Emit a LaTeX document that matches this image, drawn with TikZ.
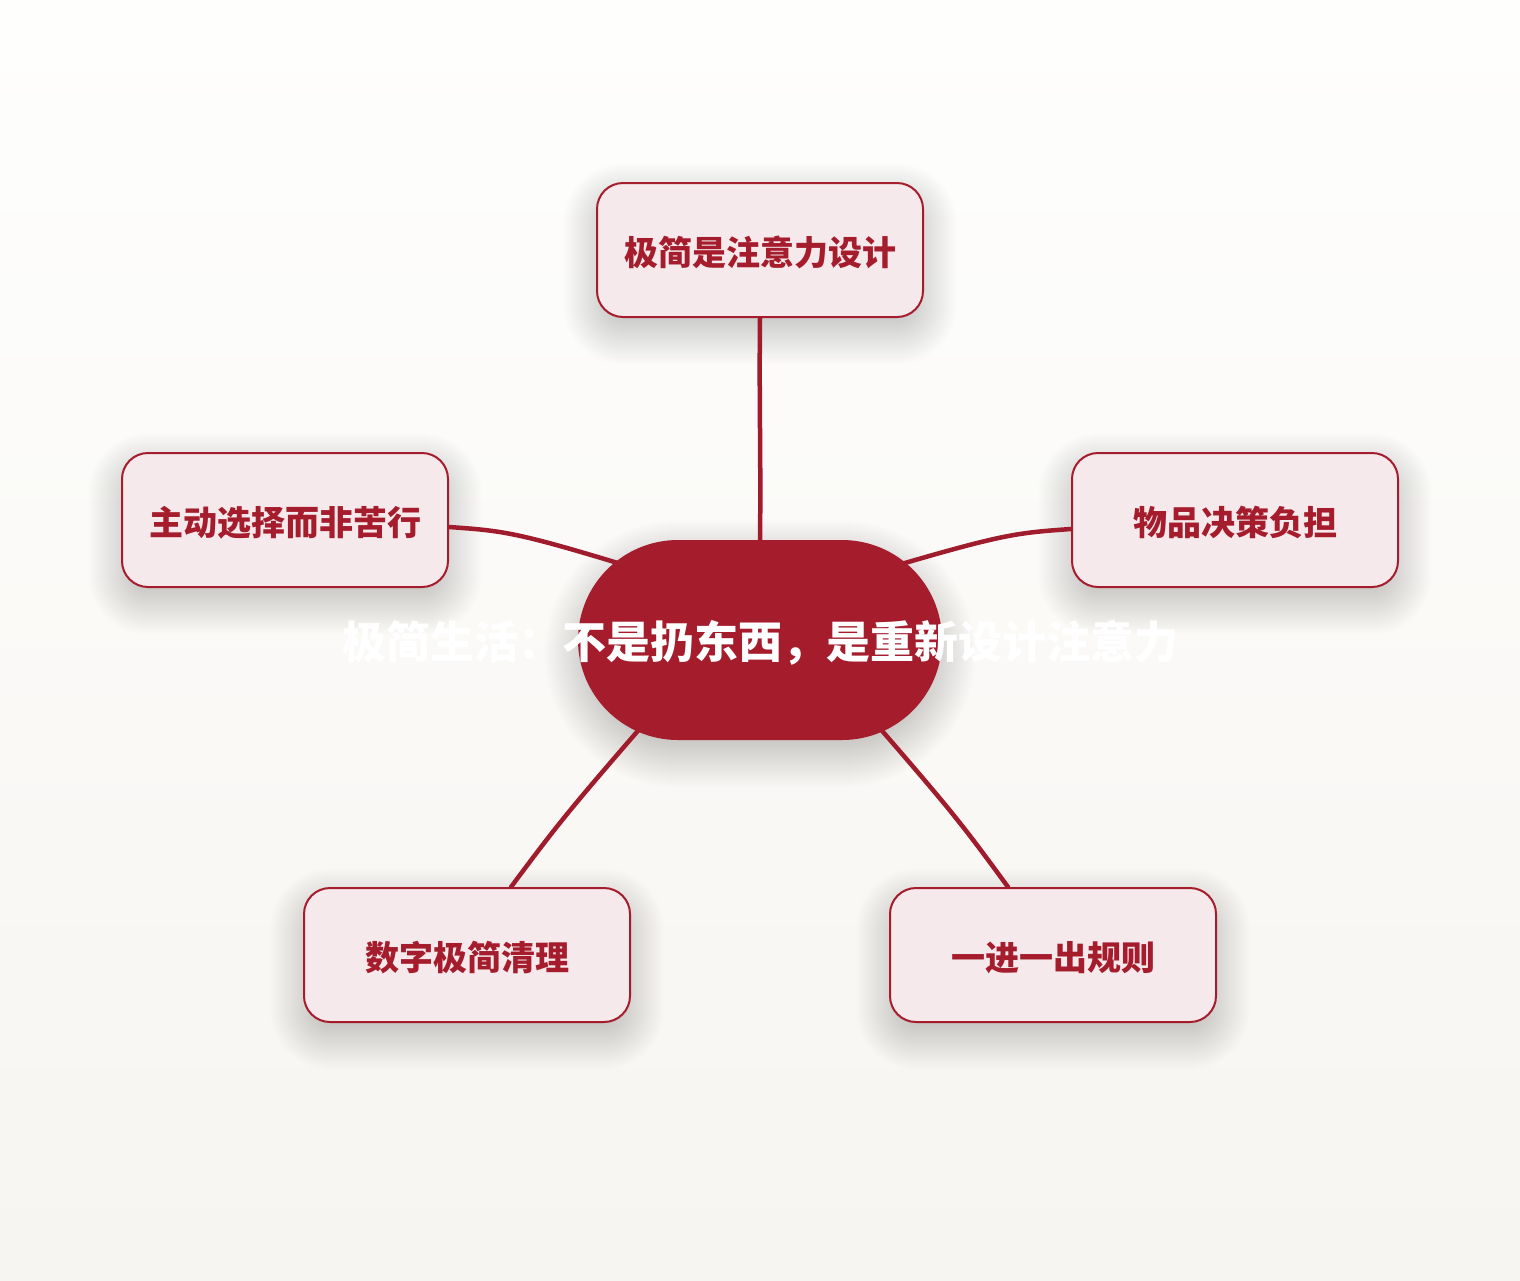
\documentclass[tikz,border=0pt]{standalone}
\usepackage{fontspec}
\setmainfont{Noto Sans CJK SC}
\usetikzlibrary{calc,backgrounds}
\definecolor{deepred}{HTML}{A51C2C}
\definecolor{linered}{HTML}{A01B2B}
\definecolor{pinkfill}{HTML}{F5E9EC}
\definecolor{bgtop}{HTML}{FEFEFD}
\definecolor{bgbot}{HTML}{F7F5F1}
\tikzset{
  topicbox/.style={draw=deepred, line width=2pt, fill=pinkfill, rounded corners=26pt,
    minimum width=326pt, minimum height=134pt, inner sep=0pt,
    text=deepred, font=\fontsize{34pt}{38pt}\selectfont\bfseries},
  centerbox/.style={fill=deepred, rounded corners=100pt, minimum width=364pt, minimum height=200pt, inner sep=0pt},
  centertext/.style={text=white, inner sep=0pt, font=\fontsize{44pt}{50pt}\selectfont\bfseries},
  link/.style={draw=linered, line width=4.5pt, line cap=round},
  shadowlayer/.style={black, opacity=0.0055}
}
\newcommand\mydropshadow[5]{%
  \foreach \i in {-12,...,34} {%
    \pgfmathsetmacro\rr{#4+\i}%
    \fill[shadowlayer, rounded corners=\rr pt] ($(#1)+(-#2/2-\i, -#3/2-\i+#5)$) rectangle ($(#1)+(#2/2+\i, #3/2+\i+#5)$);
  }}
\newcommand\lowtext[1]{\raisebox{-2.5pt}[\height][\depth]{#1}}
\begin{document}
\begin{tikzpicture}[x=1pt,y=-1pt]
\useasboundingbox (0,0) rectangle (1520,1280);
\node[centerbox] (c) at (760,640) {};
\node[centertext] (ct) at (760,643) {极简生活：不是扔东西，是重新设计注意力};
\node[topicbox] (t) at (760,250) {\lowtext{极简是注意力设计}};
\node[topicbox] (l) at (285,520) {\lowtext{主动选择而非苦行}};
\node[topicbox] (r) at (1235,520) {\lowtext{物品决策负担}};
\node[topicbox] (bl) at (467,955) {\lowtext{数字极简清理}};
\node[topicbox] (br) at (1053,955) {\lowtext{一进一出规则}};
\begin{pgfonlayer}{background}
\shade[top color=bgtop, bottom color=bgbot] (0,0) rectangle (1520,1280);
\mydropshadow{c}{364}{200}{100}{14}
\mydropshadow{t}{326}{134}{26}{14}
\mydropshadow{l}{326}{134}{26}{14}
\mydropshadow{r}{326}{134}{26}{14}
\mydropshadow{bl}{326}{134}{26}{14}
\mydropshadow{br}{326}{134}{26}{14}
\draw[link] (t.south) .. controls ($(t.south)!0.4!(c.north)+(-1,0)$) and ($(t.south)!0.6!(c.north)+(1,0)$) .. ($(c.north)+(0,5)$);
\draw[link] ($(l.east)+(0,7)$) .. controls ($(l.east)+(70,12)$) .. ($(c)+(0,-33)$);
\draw[link] ($(r.west)+(0,9)$) .. controls ($(r.west)+(-70,14)$) .. ($(c)+(0,-34)$);
\draw[link] ($(bl.north)+(44,0)$) .. controls ($(bl.north)+(100,-75)$) .. ($(c)+(-43,0)$);
\draw[link] ($(br.north)+(-45,0)$) .. controls ($(br.north)+(-100,-75)$) .. ($(c)+(43,0)$);
\end{pgfonlayer}
\end{tikzpicture}
\end{document}
